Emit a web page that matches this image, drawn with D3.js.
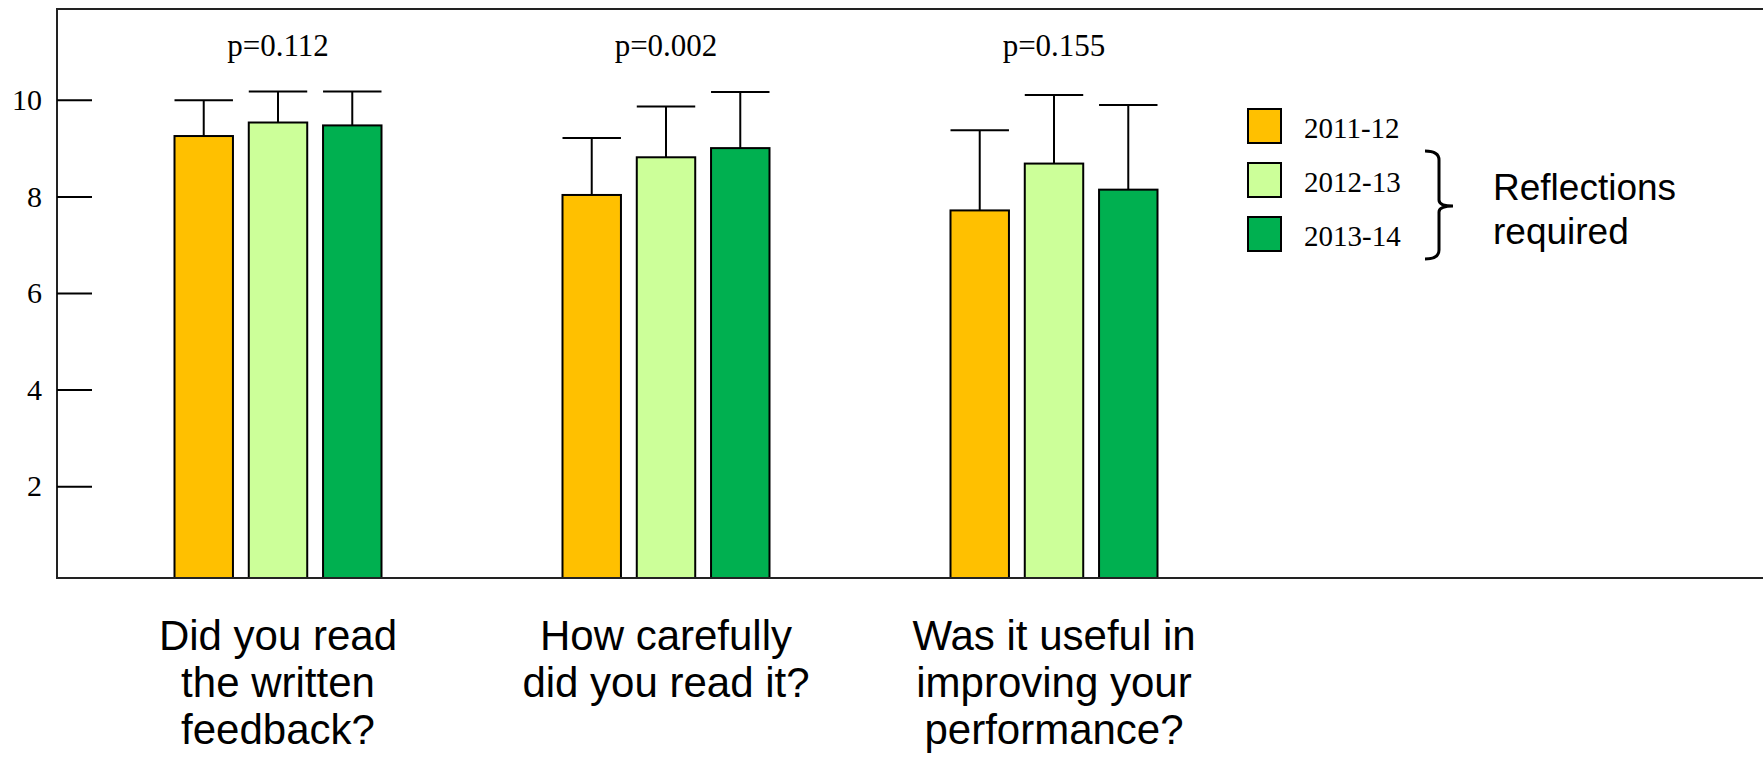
<!DOCTYPE html>
<html>
<head>
<meta charset="utf-8">
<script src="https://cdn.jsdelivr.net/npm/d3@7"></script>
<style>
  html, body { margin: 0; padding: 0; background: #fff; overflow: hidden; }
  svg { display: block; }
</style>
</head>
<body>
<svg id="chart" width="1763" height="758"></svg>
<script>
// ---- data ----
const categories = ["q1", "q2", "q3"];
const categoryLabels = [
  ["Did you read", "the written", "feedback?"],
  ["How carefully", "did you read it?"],
  ["Was it useful in", "improving your", "performance?"]
];
const years = ["2011-12", "2012-13", "2013-14"];
const means2011 = [9.25, 8.03, 7.71];
const means2012 = [9.53, 8.81, 8.68];
const means2013 = [9.47, 9.00, 8.14];
const err2011 = [0.74, 1.18, 1.66];
const err2012 = [0.64, 1.05, 1.42];
const err2013 = [0.70, 1.16, 1.75];
const pValues = ["p=0.112", "p=0.002", "p=0.155"];
const yTicks = [2, 4, 6, 8, 10];
const colors = ["#FFC000", "#CCFF99", "#00B050"];
const bracketLabel = ["Reflections", "required"];

const means = [means2011, means2012, means2013];
const errs = [err2011, err2012, err2013];

// ---- layout ----
const W = 1763;
const plotLeft = 57, plotTop = 9, plotBottom = 578;

const svg = d3.select("#chart");

const y = d3.scaleLinear().domain([0.1, 11.88]).range([plotBottom, plotTop]);
const x0 = d3.scaleBand().domain(categories).range([84, 1248]).padding(0);
const x1 = d3.scaleBand().domain(years).range([-103.5, 103.5]).paddingInner(0.213);
const color = d3.scaleOrdinal().domain(years).range(colors);

const rows = [];
categories.forEach((c, ci) => {
  years.forEach((yr, yi) => {
    rows.push({ cat: c, year: yr, mean: means[yi][ci], err: errs[yi][ci] });
  });
});

// bars
const g = svg.append("g");
const cx = c => x0(c) + x0.bandwidth() / 2;

g.selectAll("rect.bar").data(rows).join("rect")
  .attr("class", "bar")
  .attr("x", d => cx(d.cat) + x1(d.year))
  .attr("width", x1.bandwidth())
  .attr("y", d => y(d.mean))
  .attr("height", d => plotBottom - y(d.mean))
  .attr("fill", d => color(d.year))
  .attr("stroke", "#000")
  .attr("stroke-width", 2);

// error bars
g.selectAll("line.err").data(rows).join("line")
  .attr("x1", d => cx(d.cat) + x1(d.year) + x1.bandwidth() / 2)
  .attr("x2", d => cx(d.cat) + x1(d.year) + x1.bandwidth() / 2)
  .attr("y1", d => y(d.mean))
  .attr("y2", d => y(d.mean + d.err))
  .attr("stroke", "#000").attr("stroke-width", 2);
g.selectAll("line.cap").data(rows).join("line")
  .attr("x1", d => cx(d.cat) + x1(d.year))
  .attr("x2", d => cx(d.cat) + x1(d.year) + x1.bandwidth())
  .attr("y1", d => y(d.mean + d.err))
  .attr("y2", d => y(d.mean + d.err))
  .attr("stroke", "#000").attr("stroke-width", 2);

// frame
svg.append("line").attr("x1", plotLeft).attr("x2", W).attr("y1", plotTop).attr("y2", plotTop)
  .attr("stroke", "#222").attr("stroke-width", 2);
svg.append("line").attr("x1", plotLeft).attr("x2", W).attr("y1", plotBottom).attr("y2", plotBottom)
  .attr("stroke", "#222").attr("stroke-width", 2);
svg.append("line").attr("x1", plotLeft).attr("x2", plotLeft).attr("y1", plotTop - 1).attr("y2", plotBottom + 1)
  .attr("stroke", "#222").attr("stroke-width", 2);

// y axis
const axis = d3.axisLeft(y).tickValues(yTicks).tickSizeInner(-35).tickSizeOuter(0).tickPadding(15)
  .tickFormat(d3.format("d"));
const ag = svg.append("g").attr("transform", `translate(${plotLeft},0)`).call(axis);
ag.select(".domain").remove();
ag.selectAll(".tick line").attr("stroke", "#000").attr("stroke-width", 2);
ag.selectAll(".tick text").attr("font-family", "'Liberation Serif', 'Times New Roman', serif")
  .attr("font-size", 30).attr("fill", "#000");

// p-values
svg.selectAll("text.p").data(categories).join("text")
  .attr("x", c => cx(c))
  .attr("y", 56)
  .attr("text-anchor", "middle")
  .attr("font-family", "'Liberation Serif', 'Times New Roman', serif")
  .attr("font-size", 31)
  .text((c, i) => pValues[i]);

// category labels
categories.forEach((c, i) => {
  const t = svg.append("text")
    .attr("text-anchor", "middle")
    .attr("font-family", "'Liberation Sans', Arial, sans-serif")
    .attr("font-size", 42)
    .attr("fill", "#000");
  categoryLabels[i].forEach((line, li) => {
    t.append("tspan").attr("x", cx(c)).attr("y", 650 + li * 47).text(line);
  });
});

// legend
const leg = svg.append("g").attr("transform", "translate(1248,109)");
years.forEach((yr, i) => {
  const row = leg.append("g").attr("transform", `translate(0,${i * 54})`);
  row.append("rect").attr("width", 33).attr("height", 34)
    .attr("fill", color(yr)).attr("stroke", "#000").attr("stroke-width", 2);
  row.append("text").attr("x", 56).attr("y", 29)
    .attr("font-family", "'Liberation Serif', 'Times New Roman', serif")
    .attr("font-size", 29).text(yr);
});

// bracket
svg.append("path")
  .attr("d", "M1425,151 Q1439,151 1439,160 L1439,200 Q1439,206 1453,206 Q1439,206 1439,212 L1439,250 Q1439,259 1425,259")
  .attr("fill", "none").attr("stroke", "#000").attr("stroke-width", 3);
const bt = svg.append("text")
  .attr("font-family", "'Liberation Sans', Arial, sans-serif")
  .attr("font-size", 37).attr("fill", "#000");
bracketLabel.forEach((line, i) => {
  bt.append("tspan").attr("x", 1493).attr("y", 200 + i * 44).text(line);
});
</script>
</body>
</html>
